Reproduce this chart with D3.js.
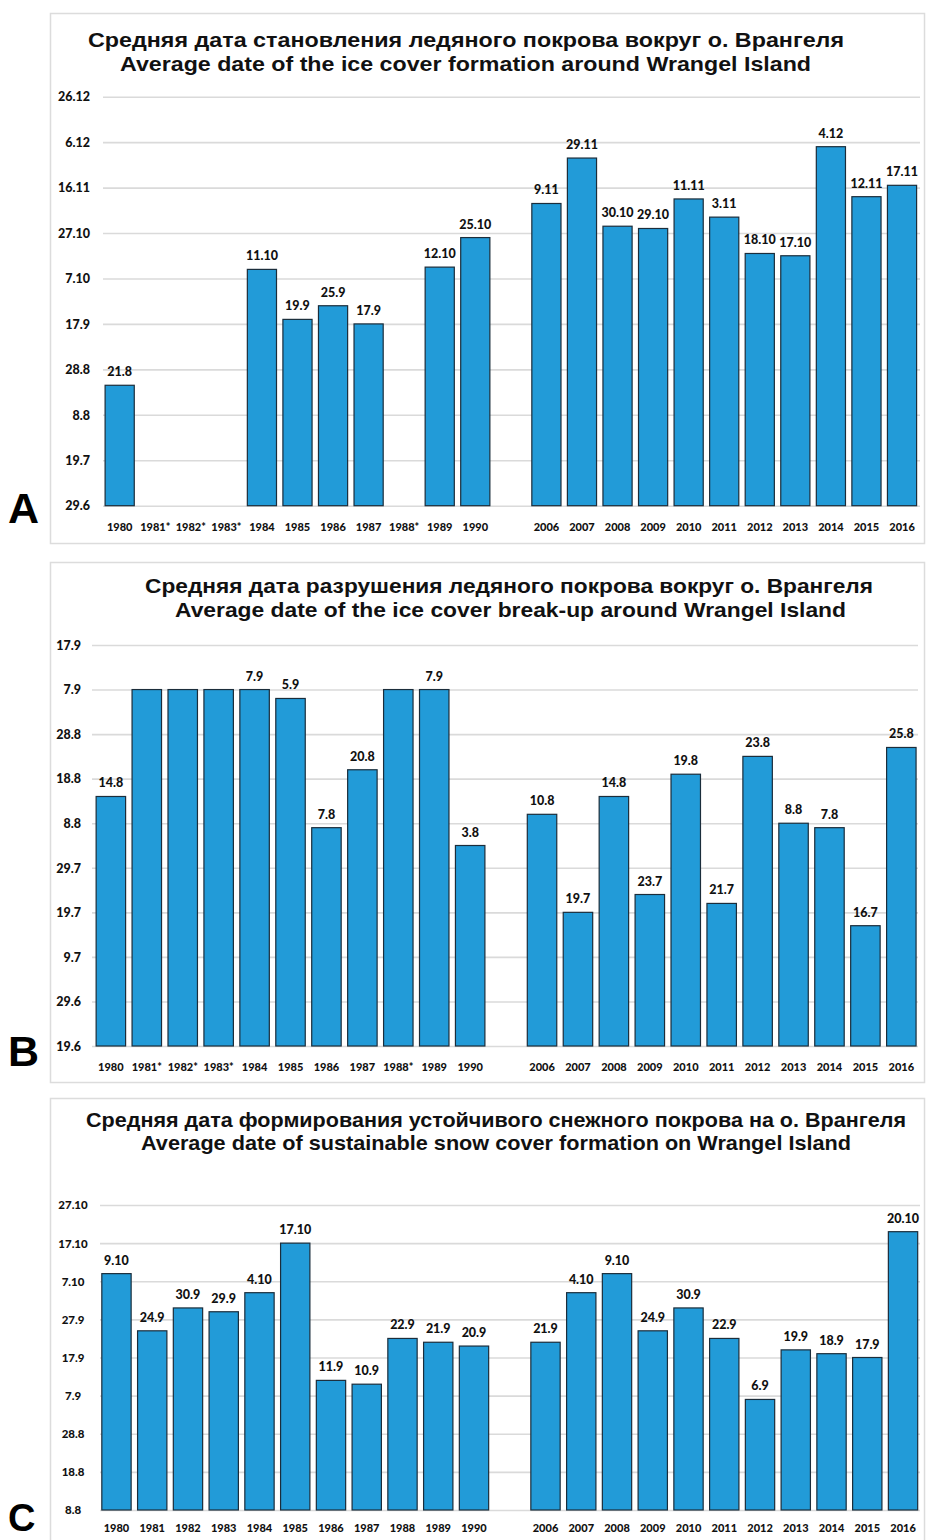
<!DOCTYPE html>
<html>
<head>
<meta charset="utf-8">
<script src="https://cdn.jsdelivr.net/npm/d3@7"></script>
<style>
  html, body { margin: 0; padding: 0; background: #ffffff; }
  svg { display: block; }
  .title { font-family: "Liberation Sans", Arial, sans-serif; font-weight: bold; fill: #111111; }
  .panel-letter { font-family: "Liberation Sans", Arial, sans-serif; font-weight: bold; fill: #000000; }
  .tick-label, .year-label, .value-label { font-family: Lato, "Open Sans", sans-serif; font-weight: 900; fill: #111111; }
</style>
</head>
<body>
<svg id="fig" width="926" height="1540"></svg>
<script>
// ---- Years on the horizontal axis (two observation periods with a gap) ----
const yearsEarlyIce = ["1980", "1981*", "1982*", "1983*", "1984", "1985", "1986", "1987", "1988*", "1989", "1990"];
const yearsEarlySnow = ["1980", "1981", "1982", "1983", "1984", "1985", "1986", "1987", "1988", "1989", "1990"];
const yearsLate = ["2006", "2007", "2008", "2009", "2010", "2011", "2012", "2013", "2014", "2015", "2016"];

// ---- A: average date of ice cover formation (day.month); null = no data ----
const freezeUpDates = ["21.8", null, null, null, "11.10", "19.9", "25.9", "17.9", null, "12.10", "25.10",
                       "9.11", "29.11", "30.10", "29.10", "11.11", "3.11", "18.10", "17.10", "4.12", "12.11", "17.11"];
const freezeUpTicks = ["29.6", "19.7", "8.8", "28.8", "17.9", "7.10", "27.10", "16.11", "6.12", "26.12"];

// ---- B: average date of ice cover break-up ----
const breakUpDates = ["14.8", "7.9", "7.9", "7.9", "7.9", "5.9", "7.8", "20.8", "7.9", "7.9", "3.8",
                      "10.8", "19.7", "14.8", "23.7", "19.8", "21.7", "23.8", "8.8", "7.8", "16.7", "25.8"];
const breakUpLabelled = [true, false, false, false, true, true, true, true, false, true, true,
                         true, true, true, true, true, true, true, true, true, true, true];
const breakUpTicks = ["19.6", "29.6", "9.7", "19.7", "29.7", "8.8", "18.8", "28.8", "7.9", "17.9"];

// ---- C: average date of sustainable snow cover formation ----
const snowCoverDates = ["9.10", "24.9", "30.9", "29.9", "4.10", "17.10", "11.9", "10.9", "22.9", "21.9", "20.9",
                        "21.9", "4.10", "9.10", "24.9", "30.9", "22.9", "6.9", "19.9", "18.9", "17.9", "20.10"];
const snowCoverTicks = ["8.8", "18.8", "28.8", "7.9", "17.9", "27.9", "7.10", "17.10", "27.10"];

const titlesA = ["Средняя дата становления ледяного покрова вокруг о. Врангеля",
                 "Average date of the ice cover formation around Wrangel Island"];
const titlesB = ["Средняя дата разрушения ледяного покрова вокруг о. Врангеля",
                 "Average date of the ice cover break-up around Wrangel Island"];
const titlesC = ["Средняя дата формирования устойчивого снежного покрова на о. Врангеля",
                 "Average date of sustainable snow cover formation on Wrangel Island"];

// "d.m" -> UTC date within one reference year
function parseDay(s) {
  const [d, m] = s.split(".").map(Number);
  return new Date(Date.UTC(2001, m - 1, d));
}

const GAP = "gap";
const svg = d3.select("#fig");

const BAR_FILL = "#229bd8";
const BAR_STROKE = "#1b2d3b";
const GRID = "#dadada";
const BORDER = "#dcdcdc";

function drawPanel(cfg) {
  const g = svg.append("g");

  // frame
  g.append("rect")
    .attr("x", cfg.box[0] + 0.5).attr("y", cfg.box[1] + 0.5)
    .attr("width", cfg.box[2] - cfg.box[0]).attr("height", cfg.box[3] - cfg.box[1])
    .attr("fill", "#ffffff").attr("stroke", BORDER).attr("stroke-width", 1.5);

  // two-line title
  cfg.titles.forEach((t, i) => {
    const [x0, x1] = cfg.titleX[i];
    g.append("text").attr("class", "title")
      .attr("x", x0).attr("y", cfg.titleY[i])
      .attr("font-size", cfg.titleSize)
      .attr("textLength", x1 - x0).attr("lengthAdjust", "spacingAndGlyphs")
      .text(t);
  });

  const domain = [...cfg.yearsEarly, GAP, ...yearsLate];
  const years = [...cfg.yearsEarly, ...yearsLate];

  const x = d3.scaleBand().domain(domain).range(cfg.xRange)
    .paddingInner(0.18).paddingOuter(0.09);

  const ticks = cfg.ticks.map(parseDay);
  const y = d3.scaleUtc().domain([ticks[0], ticks[ticks.length - 1]]).range([cfg.yBottom, cfg.yTop]);

  // y axis with gridlines
  const yAxis = d3.axisLeft(y)
    .tickValues(ticks)
    .tickFormat((d, i) => cfg.ticks[i])
    .tickSize(-(cfg.gridX1 - cfg.gridX0))
    .tickPadding(cfg.tickPad);
  const ya = g.append("g").attr("transform", `translate(${cfg.gridX0},0)`).call(yAxis);
  ya.select(".domain").remove();
  ya.selectAll(".tick line").attr("stroke", GRID).attr("stroke-width", 1.6);
  ya.selectAll(".tick text").attr("class", "tick-label")
    .attr("font-size", cfg.tickSize).attr("dy", "0.34em");
  if (cfg.tickAnchor === "middle") {
    ya.selectAll(".tick text").attr("text-anchor", "middle").attr("x", cfg.tickCenter - cfg.gridX0);
  }

  // x axis (year labels)
  const xAxis = d3.axisBottom(x).tickSize(0).tickFormat(d => d === GAP ? "" : d);
  const xa = g.append("g").attr("transform", `translate(0,${cfg.yBottom})`).call(xAxis);
  xa.select(".domain").remove();
  xa.selectAll(".tick text").attr("class", "year-label")
    .attr("font-size", cfg.yearSize).attr("y", cfg.yearY - cfg.yBottom).attr("dy", 0);

  // bars
  const rows = years.map((yr, i) => ({ year: yr, date: cfg.dates[i], show: cfg.labelled ? cfg.labelled[i] : true }))
    .filter(r => r.date !== null);

  g.append("g").selectAll("rect").data(rows).join("rect")
    .attr("x", d => x(d.year))
    .attr("width", x.bandwidth())
    .attr("y", d => y(parseDay(d.date)))
    .attr("height", d => cfg.yBottom - y(parseDay(d.date)))
    .attr("fill", BAR_FILL)
    .attr("stroke", BAR_STROKE).attr("stroke-width", 1.2);

  // value labels above bars
  g.append("g").selectAll("text").data(rows.filter(r => r.show)).join("text")
    .attr("class", "value-label")
    .attr("x", d => x(d.year) + x.bandwidth() / 2)
    .attr("y", d => y(parseDay(d.date)) - 9)
    .attr("text-anchor", "middle")
    .attr("font-size", cfg.valueSize)
    .text(d => d.date);

  // panel letter
  svg.append("text").attr("class", "panel-letter")
    .attr("x", 8).attr("y", cfg.letterY)
    .attr("font-size", cfg.letterSize || 43)
    .text(cfg.letter);
}

drawPanel({
  letter: "A", letterY: 523,
  box: [50, 13, 924, 543],
  titles: titlesA, titleX: [[88, 844], [120, 811]], titleY: [47, 71], titleSize: 21,
  yearsEarly: yearsEarlyIce, dates: freezeUpDates, ticks: freezeUpTicks,
  yTop: 96.7, yBottom: 505.7, xRange: [101.9, 919.8],
  gridX0: 103, gridX1: 920, tickPad: 13, tickAnchor: "end", tickSize: 12.5,
  yearY: 531, yearSize: 11, valueSize: 12.5
});

drawPanel({
  letter: "B", letterY: 1066,
  box: [50, 562, 924, 1082],
  titles: titlesB, titleX: [[145, 873], [175, 846]], titleY: [593, 617], titleSize: 21,
  yearsEarly: yearsEarlyIce, dates: breakUpDates, labelled: breakUpLabelled, ticks: breakUpTicks,
  yTop: 645, yBottom: 1046, xRange: [92.9, 919.3],
  gridX0: 92, gridX1: 918, tickPad: 11, tickAnchor: "end", tickSize: 12.5,
  yearY: 1071, yearSize: 11, valueSize: 12.5
});

drawPanel({
  letter: "C", letterY: 1531, letterSize: 38,
  box: [50, 1098, 924, 1560],
  titles: titlesC, titleX: [[86, 906], [141, 851]], titleY: [1127, 1150], titleSize: 21,
  yearsEarly: yearsEarlySnow, dates: snowCoverDates, ticks: snowCoverTicks,
  yTop: 1205, yBottom: 1510, xRange: [98.6, 920.9],
  gridX0: 100, gridX1: 920, tickPad: 12, tickAnchor: "middle", tickCenter: 73, tickSize: 11.5,
  yearY: 1532, yearSize: 11, valueSize: 12.5
});
</script>
</body>
</html>
